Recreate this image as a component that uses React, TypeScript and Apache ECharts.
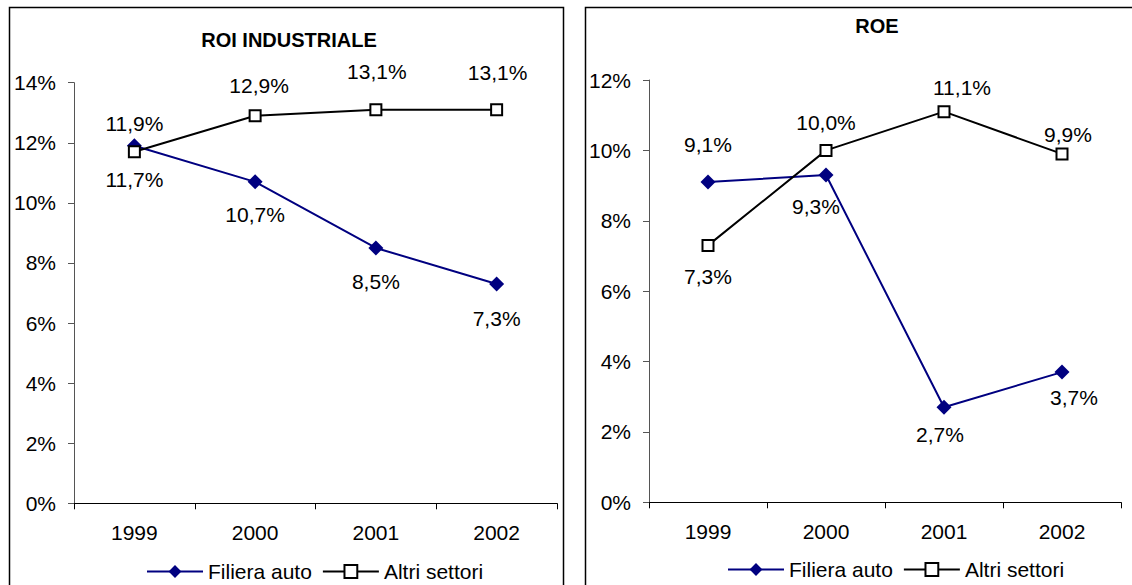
import React, { useEffect, useRef } from "react";
import * as echarts from "echarts";

const categories = ["1999", "2000", "2001", "2002"];
const roiFiliera = [11.9, 10.7, 8.5, 7.3];
const roiAltri = [11.7, 12.9, 13.1, 13.1];
const roeFiliera = [9.1, 9.3, 2.7, 3.7];
const roeAltri = [7.3, 10.0, 11.1, 9.9];

const seriesNames = ["Filiera auto", "Altri settori"];
const titles = ["ROI INDUSTRIALE", "ROE"];

// label offsets (style only): [dx, dy] from point centre
const roiFilieraOff = [[0, -22], [0, 33], [0, 34], [0, 35]];
const roiAltriOff = [[0, 28], [4, -30], [1, -38], [1, -37]];
const roeFilieraOff = [[0, -38], [-10, 31], [-4, 27], [12, 25]];
const roeAltriOff = [[0, 31], [0, -28], [18, -24], [6, -19]];

const FONT = "'Liberation Sans', Arial, sans-serif";
const NAVY = "#000080";

const fmt = (v: number) => v.toFixed(1).replace(".", ",") + "%";

function mkData(vals: number[], offs: number[][]) {
  return vals.map((v, i) => ({
    value: v,
    label: { offset: offs[i] },
  }));
}

function lineSeries(name: string, vals: number[], offs: number[][], idx: number, filiera: boolean) {
  return {
    type: "line",
    name,
    xAxisIndex: idx,
    yAxisIndex: idx,
    data: mkData(vals, offs),
    symbol: filiera ? "diamond" : "rect",
    symbolSize: filiera ? 15 : 11,
    showAllSymbol: true,
    lineStyle: { color: filiera ? NAVY : "#000", width: 2 },
    itemStyle: filiera
      ? { color: NAVY, borderColor: NAVY, borderWidth: 0 }
      : { color: "#fff", borderColor: "#000", borderWidth: 2 },
    label: {
      show: true,
      position: "inside",
      formatter: (p: any) => fmt(p.value),
      color: "#000",
      fontFamily: FONT,
      fontSize: 21,
    },
    emphasis: { disabled: true },
    z: filiera ? 3 : 4,
  };
}

function xAxis(idx: number) {
  return {
    type: "category",
    gridIndex: idx,
    data: categories,
    boundaryGap: true,
    axisLine: { show: true, lineStyle: { color: "#000", width: 1 } },
    axisTick: { show: true, length: 6, lineStyle: { color: "#000" } },
    axisLabel: { color: "#000", fontFamily: FONT, fontSize: 21, margin: 19 },
    splitLine: { show: false },
  };
}

function yAxis(idx: number, max: number) {
  return {
    type: "value",
    gridIndex: idx,
    min: 0,
    max,
    interval: 2,
    axisLine: { show: true, lineStyle: { color: "#555", width: 1 } },
    axisTick: { show: true, length: 6, lineStyle: { color: "#555" } },
    axisLabel: {
      color: "#000",
      fontFamily: FONT,
      fontSize: 21,
      margin: 18,
      formatter: (v: number) => `${v}%`,
    },
    splitLine: { show: false },
  };
}

function legend(left: number, top: number) {
  return {
    left,
    top,
    padding: 0,
    itemWidth: 56,
    itemHeight: 16,
    itemGap: 10,
    data: seriesNames,
    textStyle: { color: "#000", fontFamily: FONT, fontSize: 21 },
    selectedMode: false,
  };
}

export default function App() {
  const ref = useRef<HTMLDivElement>(null);
  useEffect(() => {
    document.body.style.margin = "0";
    if (!ref.current) return;
    const chart = echarts.init(ref.current, null, { renderer: "svg" });
    chart.setOption({
      animation: false,
      backgroundColor: "#fff",
      textStyle: { fontFamily: FONT },
      grid: [
        { left: 74, top: 82.7, width: 483, height: 420.6 },
        { left: 649, top: 80, width: 472, height: 422.3 },
      ],
      xAxis: [xAxis(0), xAxis(1)],
      yAxis: [yAxis(0, 14), yAxis(1, 12)],
      legend: [legend(146, 561), legend(727, 559)],
      graphic: [
        {
          type: "rect",
          shape: { x: 9.5, y: 7.5, width: 554, height: 620 },
          style: { fill: "none", stroke: "#000", lineWidth: 1.5 },
          silent: true,
          z: -1,
        },
        {
          type: "rect",
          shape: { x: 585.5, y: 7.5, width: 620, height: 620 },
          style: { fill: "none", stroke: "#000", lineWidth: 1.5 },
          silent: true,
          z: -1,
        },
        {
          type: "text",
          x: 289,
          y: 40,
          style: {
            text: titles[0],
            fill: "#000",
            font: `bold 20px ${FONT}`,
            textAlign: "center",
            textVerticalAlign: "middle",
          },
        },
        {
          type: "text",
          x: 877,
          y: 26,
          style: {
            text: titles[1],
            fill: "#000",
            font: `bold 20px ${FONT}`,
            textAlign: "center",
            textVerticalAlign: "middle",
          },
        },
      ],
      series: [
        lineSeries(seriesNames[0], roiFiliera, roiFilieraOff, 0, true),
        lineSeries(seriesNames[1], roiAltri, roiAltriOff, 0, false),
        lineSeries(seriesNames[0], roeFiliera, roeFilieraOff, 1, true),
        lineSeries(seriesNames[1], roeAltri, roeAltriOff, 1, false),
      ],
    });
    return () => chart.dispose();
  }, []);
  return <div ref={ref} style={{ width: 1132, height: 585 }} />;
}
